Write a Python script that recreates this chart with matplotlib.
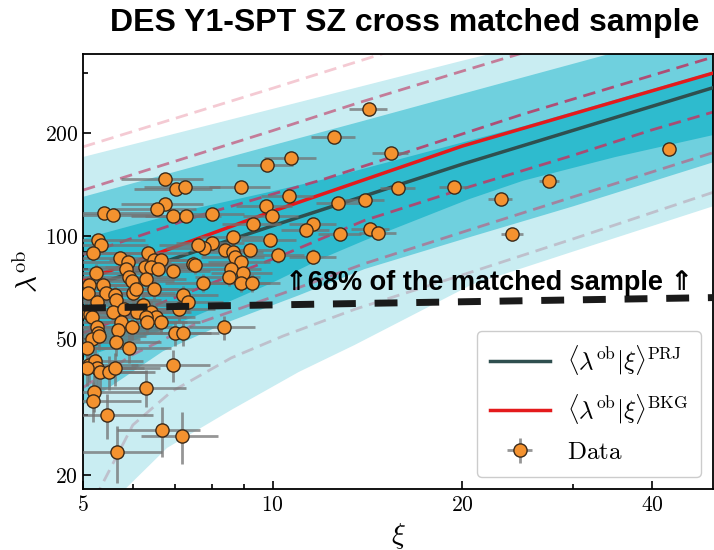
import matplotlib
matplotlib.use('Agg')
import matplotlib.pyplot as plt
from matplotlib.ticker import FixedLocator, FixedFormatter, NullFormatter

plt.rcParams['mathtext.fontset'] = 'cm'
plt.rcParams['font.family'] = ['DejaVu Serif']

# matched clusters: SZ significance xi and observed richness lambda
xi = [14.2, 12.5, 42.5, 15.4, 10.7, 9.78, 6.75, 7.02, 7.25, 8.92,
      15.8, 19.4, 27.5, 10.6, 12.7, 14.0, 23.0, 6.74, 6.55, 5.40,
      5.58, 6.96, 7.28, 8.02, 9.75, 9.97, 9.31, 11.6, 11.3, 12.8,
      14.3, 14.7, 24.0, 8.66, 9.9, 8.02, 7.78, 7.6, 8.39, 8.66,
      8.7, 9.2, 10.2, 11.6, 5.28, 5.34, 5.19, 6.34, 5.72, 5.89,
      6.49, 6.66, 6.27, 6.41, 6.58, 5.85, 5.24, 5.92, 5.98, 6.29,
      6.96, 7.47, 7.52, 7.74, 5.11, 5.38, 8.9, 8.58, 8.54, 8.98,
      8.92, 9.28, 8.36, 5.09, 5.44, 5.62, 5.64, 6.0, 6.07, 6.49,
      7.2, 7.33, 5.26, 6.22, 5.58, 5.81, 6.09, 6.41, 6.53, 6.29,
      6.66, 6.32, 7.1, 5.06, 5.13, 5.17, 5.74, 5.68, 5.98, 5.26,
      5.28, 5.17, 5.30, 6.99, 7.22, 5.07, 5.64, 5.91, 5.11, 5.22,
      5.26, 5.07, 5.32, 5.50, 5.62, 6.96, 6.29, 5.2, 5.19, 5.46,
      6.67, 7.18, 5.67]
lam = [235, 195, 180, 175, 169, 161, 147, 137, 139, 139,
       138, 139, 145, 131, 125, 127, 128, 124, 120, 117,
       115, 114, 114, 116, 122, 114, 108, 108, 104, 101,
       105, 102, 101, 99, 97, 95, 92, 94, 91, 90,
       87, 91, 88, 87, 97, 94, 89, 89, 86, 84,
       85, 85, 81, 81, 80, 80, 78, 76, 74, 75,
       79, 83, 82, 73, 72, 72, 84, 80, 76, 78,
       73, 73, 54, 68, 68, 67, 65, 68, 70, 70,
       67, 64, 64, 63, 60, 61, 60, 60, 58, 58,
       56, 56, 61, 60, 59, 58, 56, 53, 54, 54,
       52, 50, 51, 52, 52, 47, 49, 47, 42, 43,
       41, 41, 40, 40, 41, 42, 36, 35, 33, 30,
       27, 26, 23.4]
xi_err = 1.0
lam_err = 4.5

# mean relations
xi_prj = [5, 10, 20, 50]
lam_prj = [70, 107, 162, 271]
xi_bkg = [5, 10, 20, 50]
lam_bkg = [74, 118, 183, 299]

# PRJ model bands (1, 2, 3 sigma)
xi_b3_up = [5, 10, 14, 20, 30, 50]
lam_b3_up = [170, 235, 275, 325, 390, 496]
xi_b2_up = [5, 10, 13.7, 20, 50]
lam_b2_up = [130, 184, 215, 260, 411]
xi_b1_up = [5, 7.5, 10, 12, 25, 50]
lam_b1_up = [98, 120, 135, 146, 209, 302]
xi_b1_lo = [5, 6.5, 8, 10, 12, 14, 20.5, 25, 35, 50]
lam_b1_lo = [44, 52, 61, 73, 86, 97, 128, 145, 170, 197]
xi_b2_lo = [5, 6.7, 8.5, 11, 14, 20.5, 30, 50]
lam_b2_lo = [32, 46, 56, 67, 80, 99, 122, 164]
xi_b3_lo = [5, 5.8, 6.8, 8.6, 11, 13.5, 20.7, 30, 50]
lam_b3_lo = [10, 18, 24, 31, 40, 48, 72, 90, 122]

# BKG model scatter (dashed)
xi_u3 = [5, 10, 14, 18]
lam_u3 = [182, 270, 328, 380]
xi_u2 = [5, 10, 13.7, 20, 25]
lam_u2 = [136, 203, 245, 303, 343]
xi_u1 = [5, 7.7, 12, 25, 50]
lam_u1 = [88, 115, 146, 227, 333]
xi_l1 = [5, 7.3, 10.4, 14, 20.5, 30, 40, 50]
lam_l1 = [52, 68, 88, 111, 139, 172, 204, 230]
xi_l2 = [5, 6, 7.5, 10.4, 14, 20.5, 30, 50]
lam_l2 = [36, 45, 55, 68, 83, 104, 130, 175]
xi_l3 = [5.15, 5.3, 6, 6.9, 8.6, 10.4, 13.5, 20.5, 30, 50]
lam_l3 = [15, 18, 28, 35, 44, 51, 61, 78, 98, 134]

# 68% threshold
xi_cut = [5, 50]
lam_cut = [61.5, 66]


def band(ax, xu, yu, xl, yl, color):
    # polygon: upper edge left->right, lower edge right->left
    px = list(xu) + list(xl)[::-1]
    py = list(yu) + list(yl)[::-1]
    ax.fill(px, py, color=color, lw=0, zorder=1)


fig = plt.figure(figsize=(7.14, 5.5), dpi=100)
ax = fig.add_axes([0.1162, 0.1109, 0.8824, 0.7909])
ax.set_xscale('log')
ax.set_yscale('log')

band(ax, xi_b3_up, lam_b3_up, xi_b3_lo, lam_b3_lo, '#c9edf2')
band(ax, xi_b2_up, lam_b2_up, xi_b2_lo, lam_b2_lo, '#6fd0de')
band(ax, xi_b1_up, lam_b1_up, xi_b1_lo, lam_b1_lo, '#2ebbce')

dash = (4.5, 2.5)
ax.plot(xi_u3, lam_u3, color='#e88a9e', alpha=0.45, lw=2, dashes=dash, zorder=2)
ax.plot(xi_u2, lam_u2, color='#c2577b', alpha=0.75, lw=2, dashes=dash, zorder=2)
ax.plot(xi_u1, lam_u1, color='#b6406a', alpha=0.9, lw=2, dashes=dash, zorder=2)
ax.plot(xi_l1, lam_l1, color='#b6406a', alpha=0.9, lw=2, dashes=dash, zorder=2)
ax.plot(xi_l2, lam_l2, color='#b46a8a', alpha=0.75, lw=2, dashes=dash, zorder=2)
ax.plot(xi_l3, lam_l3, color='#b7a3b3', alpha=0.6, lw=2, dashes=dash, zorder=2)

ax.plot(xi_prj, lam_prj, color='#2f4f4f', lw=2.5, zorder=3,
        label=r'$\langle\lambda^{\rm ob}|\xi\rangle^{\rm PRJ}$')
ax.plot(xi_bkg, lam_bkg, color='#e41a1c', lw=2.5, zorder=3,
        label=r'$\langle\lambda^{\rm ob}|\xi\rangle^{\rm BKG}$')

ax.errorbar(xi, lam, xerr=xi_err, yerr=lam_err, fmt='o', ms=9.5,
            mfc='#f4922f', mec='#3b2a1a', mew=1.0,
            ecolor=(0.45, 0.45, 0.45, 0.75), elinewidth=2, capsize=0,
            zorder=5, label=r'$\rm Data$')

ax.plot(xi_cut, lam_cut, color='#1a1a1a', lw=5, dashes=(3.3, 2.7), zorder=6)

ax.text(10.45, 73, '\u21d168% of the matched sample \u21d1', fontsize=19.5,
        fontweight='bold', family=['Liberation Sans', 'DejaVu Sans'],
        ha='left', va='center', zorder=7)

ax.set_xlim(5, 50)
ax.set_ylim(18.2, 340)

ax.xaxis.set_major_locator(FixedLocator([5, 10, 20, 40]))
ax.xaxis.set_major_formatter(FixedFormatter([r'$5$', r'$10$', r'$20$', r'$40$']))
ax.xaxis.set_minor_locator(FixedLocator([6, 7, 8, 9, 30]))
ax.xaxis.set_minor_formatter(NullFormatter())
ax.yaxis.set_major_locator(FixedLocator([20, 50, 100, 200]))
ax.yaxis.set_major_formatter(FixedFormatter([r'$20$', r'$50$', r'$100$', r'$200$']))
ax.yaxis.set_minor_locator(FixedLocator([30, 40, 60, 70, 80, 90, 300]))
ax.yaxis.set_minor_formatter(NullFormatter())
ax.tick_params(which='both', direction='in', labelsize=15.5, width=1.2)
ax.tick_params(which='major', length=6)
ax.tick_params(which='minor', length=3.5)
for s in ax.spines.values():
    s.set_linewidth(1.3)

ax.set_xlabel(r'$\xi$', fontsize=21, labelpad=4)
ax.set_ylabel(r'$\lambda^{\rm ob}$', fontsize=21, labelpad=0)

leg = ax.legend(loc='lower right', fontsize=18, handlelength=2.4,
                handletextpad=0.7, labelspacing=0.6, borderpad=0.5,
                edgecolor='#cccccc', framealpha=1.0)
leg.set_zorder(10)

fig.text(0.567, 0.958, 'DES Y1-SPT SZ cross matched sample', fontsize=23,
         fontweight='bold', family=['Liberation Sans', 'DejaVu Sans'],
         ha='center', va='center')

fig.savefig('out.png', dpi=100)
